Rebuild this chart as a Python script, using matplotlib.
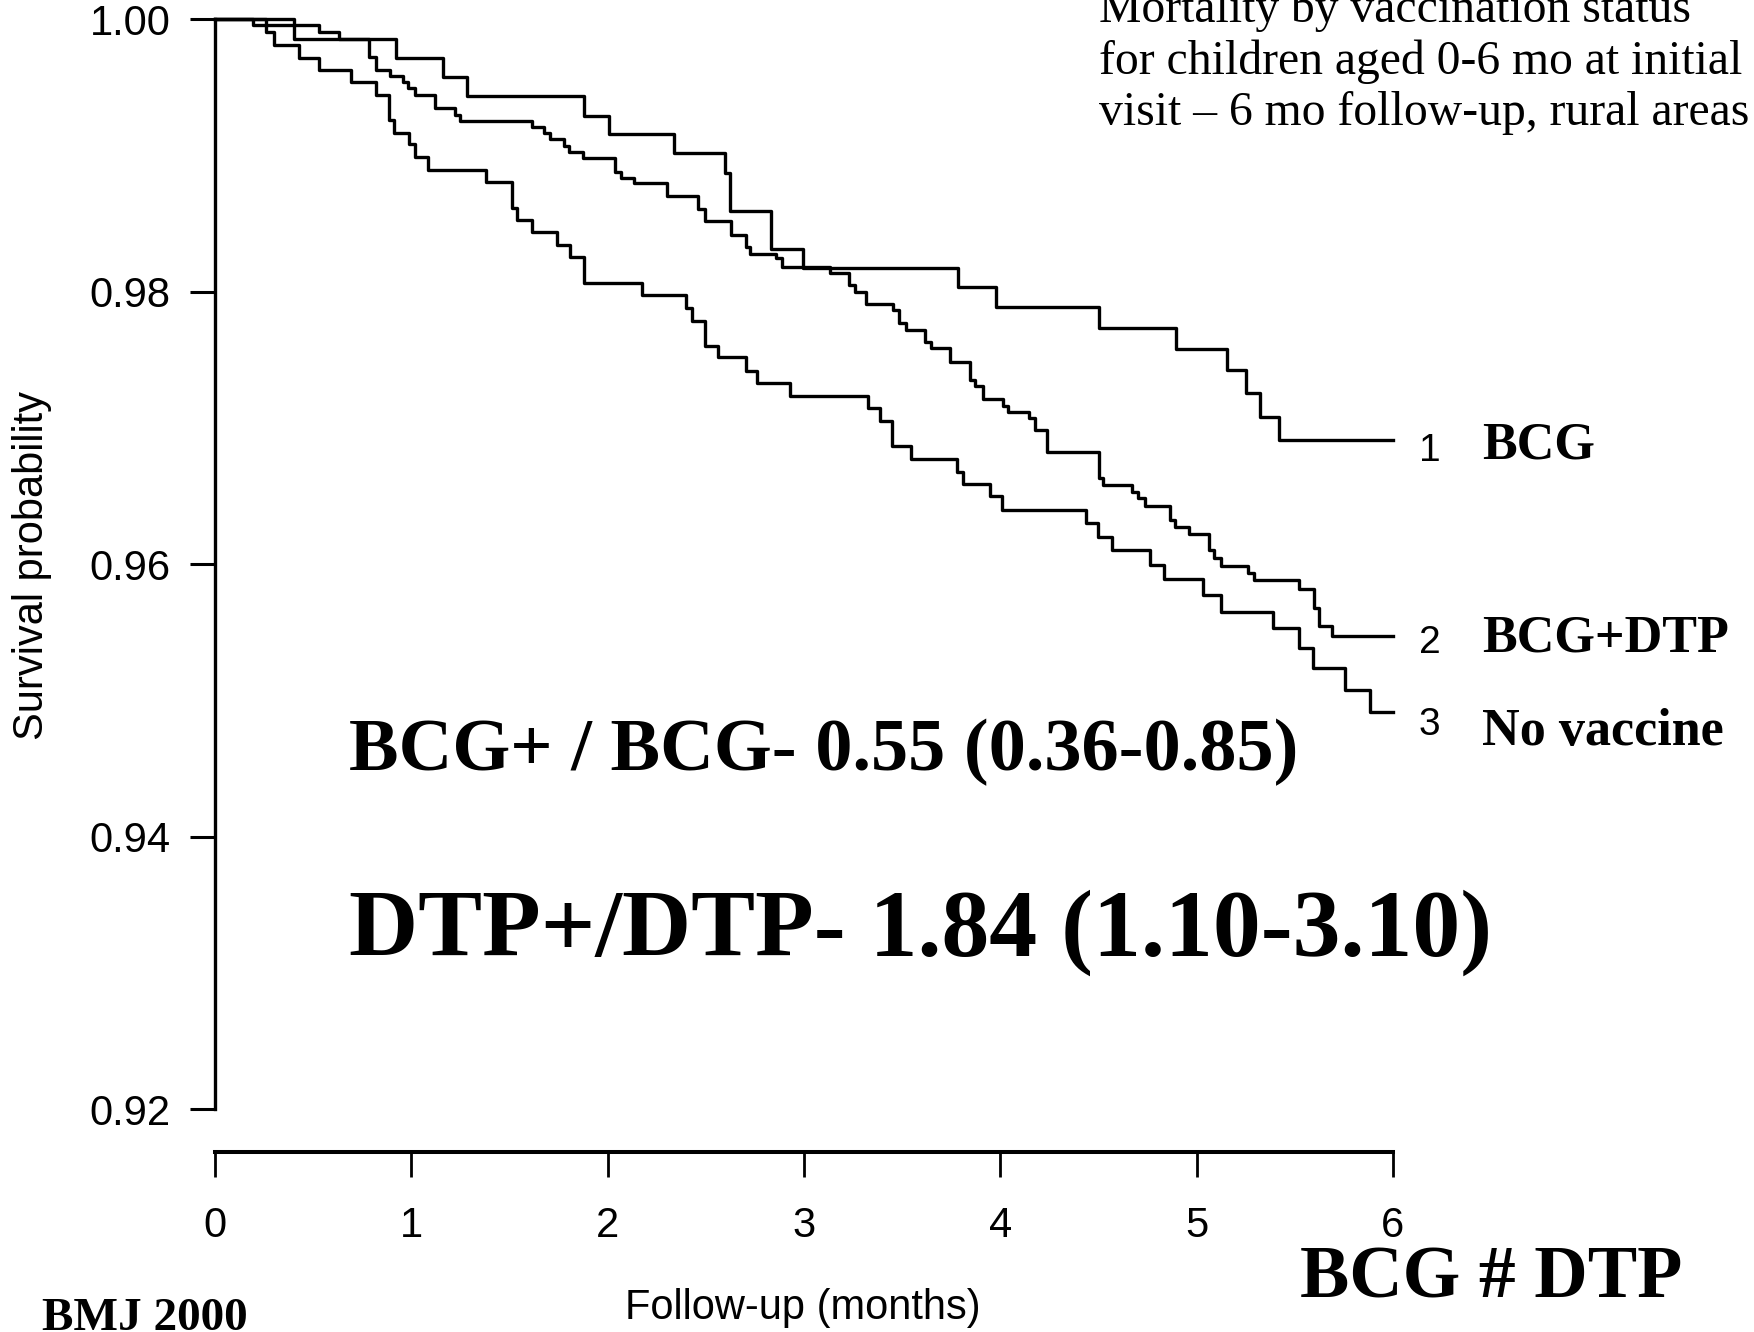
import matplotlib
matplotlib.use("Agg")
import matplotlib.pyplot as plt

plt.rcParams["font.family"] = ["Liberation Sans", "DejaVu Sans"]

# Kaplan-Meier step data: event times (months) and survival after each step
bcg_t = [0.400, 0.922, 1.159, 1.286, 1.878, 2.005, 2.338, 2.600, 2.625, 2.830,
         2.995, 3.785, 3.980, 4.501, 4.896, 5.154, 5.254, 5.324, 5.422]
bcg_s = [0.99855, 0.99716, 0.99577, 0.99437, 0.99290, 0.99158, 0.99019, 0.98872,
         0.98593, 0.98314, 0.98175, 0.98035, 0.97888, 0.97738, 0.97580, 0.97426,
         0.97257, 0.97081, 0.96912]

bcgdtp_t = [0.195, 0.531, 0.631, 0.786, 0.819, 0.891, 0.959, 0.983, 1.019, 1.123,
            1.223, 1.250, 1.614, 1.678, 1.705, 1.777, 1.805, 1.874, 2.040, 2.068,
            2.137, 2.304, 2.463, 2.498, 2.629, 2.703, 2.726, 2.859, 2.888, 3.132,
            3.230, 3.259, 3.317, 3.454, 3.483, 3.522, 3.619, 3.645, 3.745, 3.848,
            3.872, 3.910, 4.016, 4.042, 4.145, 4.176, 4.236, 4.501, 4.526, 4.672,
            4.700, 4.736, 4.867, 4.890, 4.963, 5.063, 5.091, 5.127, 5.263, 5.291,
            5.524, 5.597, 5.622, 5.691]
bcgdtp_s = [0.99958, 0.99907, 0.99859, 0.99723, 0.99628, 0.99584, 0.99540, 0.99496,
            0.99444, 0.99349, 0.99298, 0.99254, 0.99210, 0.99166, 0.99121, 0.99070,
            0.99026, 0.98982, 0.98879, 0.98835, 0.98798, 0.98703, 0.98608, 0.98520,
            0.98417, 0.98329, 0.98278, 0.98248, 0.98182, 0.98138, 0.98050, 0.97999,
            0.97911, 0.97867, 0.97771, 0.97720, 0.97632, 0.97588, 0.97485, 0.97353,
            0.97309, 0.97214, 0.97162, 0.97118, 0.97074, 0.96986, 0.96825, 0.96634,
            0.96582, 0.96531, 0.96487, 0.96428, 0.96326, 0.96274, 0.96223, 0.96105,
            0.96047, 0.95988, 0.95937, 0.95885, 0.95819, 0.95680, 0.95547, 0.95474]

novacc_t = [0.258, 0.299, 0.427, 0.528, 0.691, 0.822, 0.886, 0.913, 0.986, 1.019,
            1.086, 1.383, 1.514, 1.541, 1.614, 1.741, 1.806, 1.878, 2.173, 2.399,
            2.430, 2.498, 2.561, 2.703, 2.762, 2.927, 3.327, 3.386, 3.450, 3.547,
            3.780, 3.811, 3.948, 4.008, 4.436, 4.499, 4.572, 4.763, 4.836, 5.033,
            5.127, 5.391, 5.524, 5.591, 5.754, 5.882]
novacc_s = [0.99907, 0.99811, 0.99716, 0.99628, 0.99540, 0.99444, 0.99261, 0.99165,
            0.99085, 0.98989, 0.98894, 0.98806, 0.98615, 0.98527, 0.98439, 0.98344,
            0.98256, 0.98065, 0.97977, 0.97885, 0.97786, 0.97603, 0.97522, 0.97419,
            0.97331, 0.97236, 0.97148, 0.97052, 0.96869, 0.96773, 0.96678, 0.96589,
            0.96501, 0.96398, 0.96303, 0.96200, 0.96105, 0.95994, 0.95892, 0.95774,
            0.95649, 0.95532, 0.95385, 0.95238, 0.95077, 0.94916]

group_nums = ["1", "2", "3"]
group_names = ["BCG", "BCG+DTP", "No vaccine"]

x_ticks = [0, 1, 2, 3, 4, 5, 6]
y_ticks = [0.92, 0.94, 0.96, 0.98, 1.00]
follow_up = 6

W, H = 1754, 1332
fig = plt.figure(figsize=(W / 100, H / 100), dpi=100)
ax = fig.add_axes([215 / W, 0.13536, 1177.8 / W, 0.86036])


def km_curve(t, s):
    return [0.0] + t + [follow_up], [1.0] + s + [s[-1]]


for t, s in [(bcg_t, bcg_s), (bcgdtp_t, bcgdtp_s), (novacc_t, novacc_s)]:
    xs, ys = km_curve(t, s)
    ax.step(xs, ys, where="post", color="black", lw=2.4, clip_on=False)

ax.set_xlim(0, follow_up)
ax.set_ylim(0.9169, 1.001)

for side in ["top", "right"]:
    ax.spines[side].set_visible(False)
ax.spines["left"].set_bounds(0.92, 1.00)
ax.spines["left"].set_linewidth(2.4)
ax.spines["bottom"].set_bounds(0, follow_up)
ax.spines["bottom"].set_linewidth(2.9)

ax.set_xticks(x_ticks)
ax.set_xticklabels([str(v) for v in x_ticks])
ax.set_yticks(y_ticks)
ax.set_yticklabels(["%.2f" % v for v in y_ticks])
ax.tick_params(axis="x", direction="out", length=18, width=2.0, labelsize=30, pad=21)
ax.tick_params(axis="y", direction="out", length=18, width=2.2, labelsize=30, pad=14)

fig.text(32 / W, 1 - 566 / H, "Survival probability", rotation=90,
         ha="center", va="center", fontsize=30)
fig.text(803 / W, 1 - 1319 / H, "Follow-up (months)", ha="center",
         va="baseline", fontsize=30)

serif = ["Liberation Serif", "DejaVu Serif"]

# title block, top right
title_lines = ["Mortality by vaccination status",
               "for children aged 0-6 mo at initial",
               "visit \u2013 6 mo follow-up, rural areas"]
for line, base in zip(title_lines, [22, 74, 125]):
    fig.text(1099 / W, 1 - base / H, line, family=serif, fontsize=34.3,
             ha="left", va="baseline")

# curve labels at the right end
for num, name, nb, lb in zip(group_nums, group_names,
                             [461, 653, 735], [459, 652, 745]):
    fig.text(1419 / W, 1 - nb / H, num, fontsize=28, ha="left", va="baseline")
    fig.text(1482 / W, 1 - lb / H, name, family=serif, fontsize=37.5,
             weight="bold", ha="left", va="baseline")

fig.text(349 / W, 1 - 770 / H, "BCG+ / BCG- 0.55 (0.36-0.85)", family=serif,
         fontsize=53.6, weight="bold", ha="left", va="baseline")
fig.text(349 / W, 1 - 956 / H, "DTP+/DTP- 1.84 (1.10-3.10)", family=serif,
         fontsize=69, weight="bold", ha="left", va="baseline")
fig.text(1300 / W, 1 - 1297 / H, "BCG # DTP", family=serif,
         fontsize=53.3, weight="bold", ha="left", va="baseline")
fig.text(42 / W, 1 - 1330 / H, "BMJ 2000", family=serif,
         fontsize=34, weight="bold", ha="left", va="baseline")

fig.savefig("out.png", dpi=100)
